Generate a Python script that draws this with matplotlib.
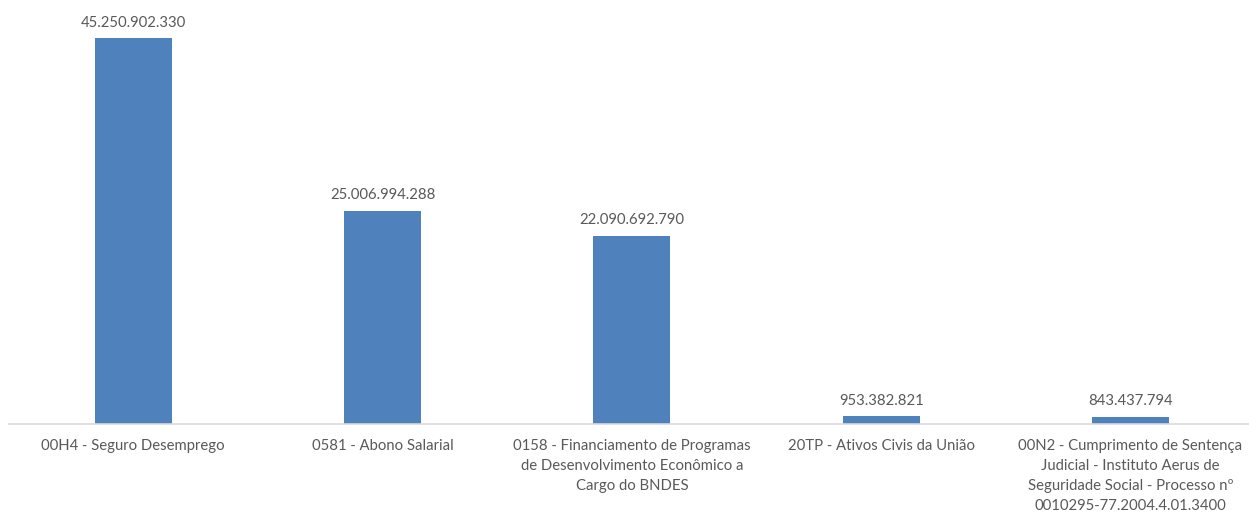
import matplotlib.pyplot as plt
from matplotlib.ticker import NullLocator

plt.rcParams['font.family'] = ['Lato', 'DejaVu Sans']

categorias = [
    "00H4 - Seguro Desemprego",
    "0581 - Abono Salarial",
    "0158 - Financiamento de Programas\nde Desenvolvimento Econômico a\nCargo do BNDES",
    "20TP - Ativos Civis da União",
    "00N2 - Cumprimento de Sentença\nJudicial - Instituto Aerus de\nSeguridade Social - Processo nº\n0010295-77.2004.4.01.3400",
]
valores = [45250902330, 25006994288, 22090692790, 953382821, 843437794]


def fmt_br(v):
    return f"{v:,.0f}".replace(",", ".")


fig = plt.figure(figsize=(12.49, 5.13), dpi=100)
ax = fig.add_axes([8.6 / 1249, 89 / 513, 1246.5 / 1249, 424 / 513])

x = range(len(categorias))
bars = ax.bar(x, valores, width=0.31, color='#4F81BD', zorder=2)
ax.bar_label(bars, labels=[fmt_br(v) for v in valores], padding=6,
             fontsize=10.7, color='#595959')

ax.set_xlim(-0.5, len(categorias) - 0.5)
ax.set_ylim(0, valores[0] * 424 / 386)
ax.set_xticks(list(x))
ax.set_xticklabels(categorias, fontsize=10.7, color='#595959', linespacing=1.54)
ax.tick_params(axis='x', length=0, pad=11)
ax.yaxis.set_major_locator(NullLocator())

for side in ['top', 'right', 'left']:
    ax.spines[side].set_visible(False)
ax.spines['bottom'].set_color('#D9D9D9')
ax.spines['bottom'].set_linewidth(1.2)

fig.savefig('out.png', dpi=100)
